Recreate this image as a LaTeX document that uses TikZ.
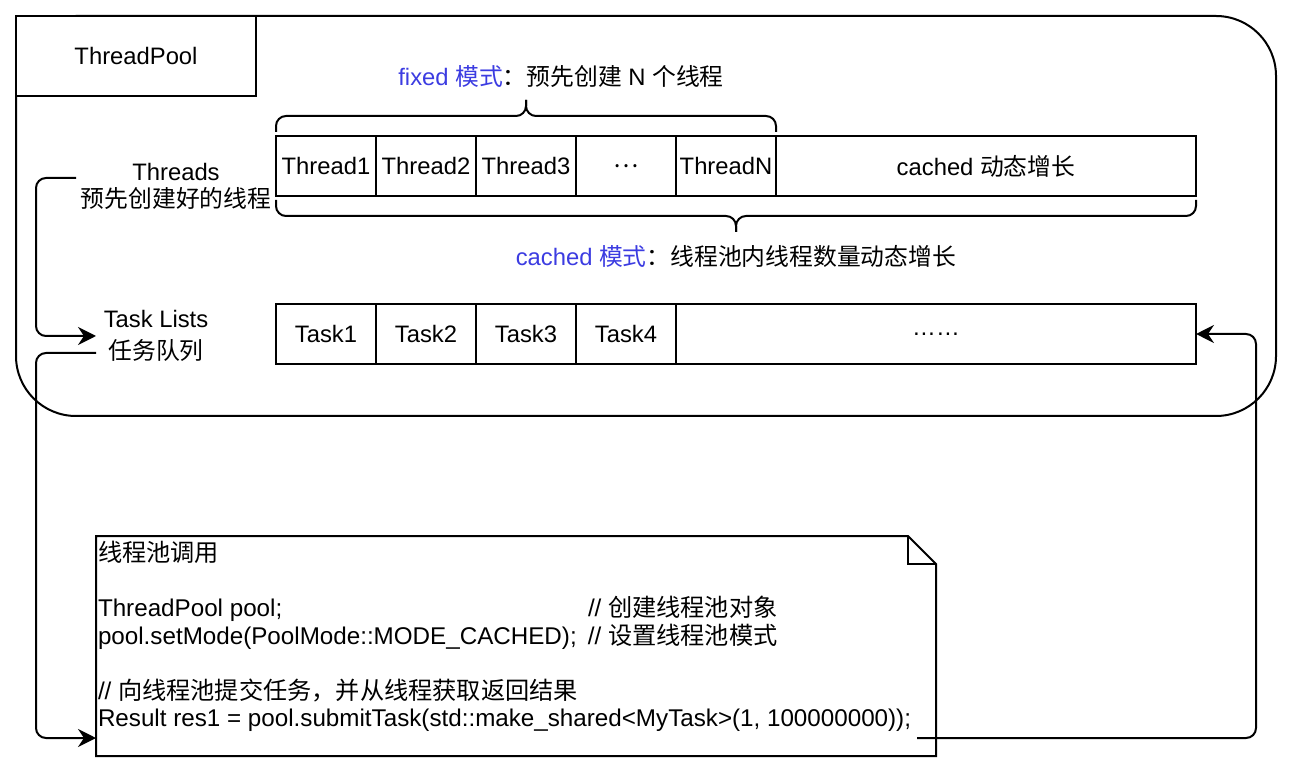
\documentclass[tikz,border=0pt]{standalone}
\usepackage{fontspec}
\setmainfont{Liberation Sans}
\newfontfamily\cjk{Noto Sans CJK SC}
\usetikzlibrary{positioning, arrows.meta}
\definecolor{modeblue}{RGB}{60,60,225}
\newcommand{\zh}[1]{{\cjk #1}}
\tikzset{
every node/.style={font=\fontsize{11.9}{13.5}\selectfont, outer sep=0pt}, % text size of every label
cell/.style={draw, line width=1pt, minimum width=50pt, minimum height=30pt, inner sep=0pt}, % one slot of a row
flow/.style={-{Stealth[length=9pt,width=9pt,inset=3pt]}, line width=1pt, rounded corners=5pt}, % bent arrows
brace/.style={line width=1pt, rounded corners=5pt}, % curly brackets
}

\begin{document}
\begin{tikzpicture}[x=0.5pt, y=-0.5pt]
    \useasboundingbox (0,0) rectangle (1294,774);
    % the pool container
    \node[draw, line width=1pt, rounded corners=30pt, minimum width=630pt, minimum height=200pt] (pool) at (646,216) {};
    \node[draw, line width=1pt, fill=white, minimum width=120pt, minimum height=40pt, inner sep=0pt] (title) at (136,56) {ThreadPool};
    % threads
    \node[cell] (thread1) at (326,166) {Thread1};
    \node[cell, right=0pt of thread1] (thread2) {Thread2};
    \node[cell, right=0pt of thread2] (thread3) {Thread3};
    \node[cell, right=0pt of thread3] (threaddots) {\zh{⋯}};
    \node[cell, right=0pt of threaddots] (threadN) {ThreadN};
    \node[cell, minimum width=210pt, right=0pt of threadN] (cachedcell) {cached \zh{动态增长}};
    % tasks
    \node[cell] (task1) at (326,334) {Task1};
    \node[cell, right=0pt of task1] (task2) {Task2};
    \node[cell, right=0pt of task2] (task3) {Task3};
    \node[cell, right=0pt of task3] (task4) {Task4};
    \node[cell, minimum width=260pt, right=0pt of task4] (taskrest) {……};
    % labels
    \node[align=center, minimum width=100pt, inner sep=0pt] (threadslabel) at (176,186) {Threads\\\zh{预先创建好的线程}};
    \node[align=center, minimum width=60pt, inner sep=0pt] (tasklabel) at (156,336) {Task Lists\\[2.5pt]\zh{任务队列}};
    \node (fixedtext) at (561,76) {\textcolor{modeblue}{fixed \zh{模式}}\zh{：预先创建} N \zh{个线程}};
    \node (cachedtext) at (736,256) {\textcolor{modeblue}{cached \zh{模式}}\zh{：线程池内线程数量动态增长}};
    % brackets
    \draw[brace] (276,132) -- (276,116) -- (526,116) -- (526,100);
    \draw[brace] (776,132) -- (776,116) -- (526,116) -- (526,100);
    \draw[brace] (276,200) -- (276,216) -- (736,216) -- (736,232);
    \draw[brace] (1196,200) -- (1196,216) -- (736,216) -- (736,232);
    % the note with the calling code
    \node[minimum width=420pt, minimum height=110pt, inner sep=0pt] (note) at (516,646) {};
    \draw[line width=1pt] (note.north west) -- ([xshift=-14pt]note.north east) -- ([yshift=-14pt]note.north east) -- (note.south east) -- (note.south west) -- cycle;
    \draw[line width=1pt] ([xshift=-14pt]note.north east) |- ([yshift=-14pt]note.north east);
    \node[anchor=north west, align=left, inner sep=0pt, font=\fontsize{12.1}{13.8}\selectfont] (code) at (98,541) {%
      \zh{线程池调用}\\ \mbox{}\\
      \makebox[245pt][l]{ThreadPool pool;}// \zh{创建线程池对象}\\
      \makebox[245pt][l]{pool.setMode(PoolMode::MODE\_CACHED);}// \zh{设置线程池模式}\\ \mbox{}\\
      // \zh{向线程池提交任务，并从线程获取返回结果}\\
      Result res1 = pool.submitTask(std::make\_shared<MyTask>(1, 100000000));};
    % connectors
    \coordinate (threadsout) at ([yshift=4pt]threadslabel.west);
    \coordinate (notein) at ([yshift=-46pt]note.west);
    \coordinate (resultout) at (917,738);
    \draw[flow] (threadsout) -| ([xshift=-30pt]tasklabel.west) -- (tasklabel.west);
    \draw[flow] ([yshift=-8.5pt]tasklabel.west) -| ([xshift=-30pt]notein) -- (notein);
    \draw[flow] (resultout) -| ([xshift=30pt]taskrest.east) -- (taskrest.east);
\end{tikzpicture}
\end{document}
